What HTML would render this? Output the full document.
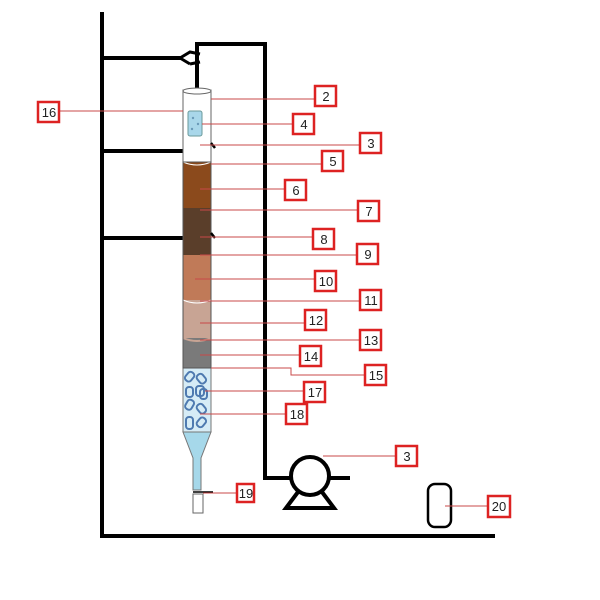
<!DOCTYPE html>
<html><head><style>body{margin:0;background:#fff}svg{display:block}text{font-family:"Liberation Sans",sans-serif;font-size:13px;fill:#222}</style></head>
<body>
<svg width="600" height="600" viewBox="0 0 600 600">
<rect width="600" height="600" fill="#fff"/>
<g stroke="#000" stroke-width="4" fill="none">
<line x1="102" y1="12" x2="102" y2="538"/>
<line x1="100" y1="536" x2="495" y2="536"/>
<line x1="102" y1="58" x2="182" y2="58"/>
<line x1="102" y1="151" x2="183" y2="151"/>
<line x1="102" y1="238" x2="183" y2="238"/>
<polyline points="197,112 197,44 265,44 265,478 292,478"/>
<line x1="329" y1="478" x2="350" y2="478"/>
</g>
<path d="M180,58 L190,52 L200,54 M190,64 L200,62 M180,58 L190,64" stroke="#000" stroke-width="3" fill="none"/>
<rect x="183" y="90" width="28" height="72" fill="#fff" stroke="#666" stroke-width="1"/>
<ellipse cx="197" cy="91" rx="14" ry="3" fill="#fff" stroke="#666"/>
<rect x="183" y="162" width="28" height="46" fill="#8b4a1c"/>
<rect x="183" y="208" width="28" height="47" fill="#5a3e2a"/>
<rect x="183" y="255" width="28" height="45" fill="#c07a58"/>
<rect x="183" y="300" width="28" height="38" fill="#c8a494"/>
<rect x="183" y="338" width="28" height="30" fill="#7a7a7a"/>
<rect x="183" y="368" width="28" height="64" fill="#d6ecf6" stroke="#777"/>
<path d="M183,162 Q197,168 211,162" stroke="#fff" fill="none"/>
<path d="M183,300 Q197,306 211,300" stroke="#fff" fill="none"/>
<path d="M183,338 Q197,344 211,338" stroke="#c8a494" stroke-width="2" fill="none"/>
<rect x="183" y="162" width="28" height="206" fill="none" stroke="#555"/>
<g fill="none" stroke="#4e7ab0" stroke-width="2">
<rect x="186" y="372" width="7" height="10" rx="3" transform="rotate(40 190 377)"/>
<rect x="198" y="374" width="7" height="10" rx="3" transform="rotate(-40 201 379)"/>
<rect x="186" y="387" width="7" height="10" rx="3"/>
<rect x="196" y="386" width="8" height="10" rx="3"/>
<rect x="200" y="389" width="7" height="10" rx="3"/>
<rect x="186" y="400" width="7" height="10" rx="3" transform="rotate(30 190 405)"/>
<rect x="198" y="404" width="7" height="10" rx="3" transform="rotate(-40 201 409)"/>
<rect x="186" y="417" width="7" height="12" rx="3"/>
<rect x="198" y="417" width="7" height="10" rx="3" transform="rotate(40 201 422)"/>
</g>
<path d="M183,432 L211,432 L201,458 L201,490 L193,490 L193,458 Z" fill="#a6d8ea" stroke="#777"/>
<rect x="193" y="494" width="10" height="19" fill="#fff" stroke="#666"/>
<line x1="193" y1="492" x2="213" y2="492" stroke="#000" stroke-width="1.5"/>
<rect x="188" y="111" width="14" height="25" rx="2" fill="#a9d7ea" stroke="#6a9a9a"/>
<g fill="#6a9ab8"><circle cx="193" cy="118" r="1.2"/><circle cx="198" cy="124" r="1.2"/><circle cx="192" cy="129" r="1.2"/></g>
<line x1="211" y1="143" x2="215" y2="148" stroke="#000" stroke-width="2.5"/>
<line x1="211" y1="233" x2="215" y2="238" stroke="#000" stroke-width="2.5"/>
<circle cx="310" cy="476" r="19" fill="#fff" stroke="#000" stroke-width="4"/>
<path d="M298,492 L286,508 L334,508 L322,492" fill="none" stroke="#000" stroke-width="4"/>
<rect x="428" y="484" width="23" height="43" rx="7" fill="#fff" stroke="#000" stroke-width="2.5"/>
<g stroke="#c84848" stroke-width="1" fill="none">
<line x1="60" y1="111" x2="183" y2="111"/>
<line x1="211" y1="99" x2="314" y2="99"/>
<line x1="202" y1="124" x2="292" y2="124"/>
<line x1="200" y1="145" x2="360" y2="145"/>
<line x1="211" y1="164" x2="321" y2="164"/>
<line x1="200" y1="189" x2="284" y2="189"/>
<line x1="200" y1="210" x2="357" y2="210"/>
<line x1="200" y1="237" x2="312" y2="237"/>
<line x1="200" y1="255" x2="356" y2="255"/>
<line x1="195" y1="279" x2="314" y2="279"/>
<line x1="200" y1="301" x2="359" y2="301"/>
<line x1="200" y1="323" x2="304" y2="323"/>
<line x1="200" y1="340" x2="359" y2="340"/>
<line x1="200" y1="355" x2="299" y2="355"/>
<polyline points="211,368 291,368 291,375 364,375"/>
<line x1="205" y1="391" x2="303" y2="391"/>
<line x1="200" y1="414" x2="285" y2="414"/>
<line x1="323" y1="456" x2="396" y2="456"/>
<line x1="203" y1="493" x2="236" y2="493"/>
<line x1="445" y1="506" x2="488" y2="506"/>
</g>
<g fill="#fff" stroke="#d22" stroke-width="2.5">
<rect x="38" y="102" width="21" height="20"/>
<rect x="315" y="86" width="21" height="20"/>
<rect x="293" y="114" width="21" height="20"/>
<rect x="360" y="133" width="21" height="20"/>
<rect x="322" y="151" width="21" height="20"/>
<rect x="285" y="180" width="21" height="20"/>
<rect x="358" y="201" width="21" height="20"/>
<rect x="313" y="229" width="21" height="20"/>
<rect x="357" y="244" width="21" height="20"/>
<rect x="315" y="271" width="21" height="20"/>
<rect x="360" y="290" width="21" height="20"/>
<rect x="305" y="310" width="21" height="20"/>
<rect x="360" y="330" width="21" height="20"/>
<rect x="300" y="346" width="21" height="20"/>
<rect x="365" y="365" width="21" height="20"/>
<rect x="304" y="382" width="21" height="20"/>
<rect x="286" y="404" width="21" height="20"/>
<rect x="396" y="446" width="21" height="20"/>
<rect x="237" y="484" width="17" height="18"/>
<rect x="488" y="496" width="22" height="21"/>
</g>
<g text-anchor="middle">
<text x="49" y="117">16</text>
<text x="326" y="101">2</text>
<text x="304" y="129">4</text>
<text x="371" y="148">3</text>
<text x="333" y="166">5</text>
<text x="296" y="195">6</text>
<text x="369" y="216">7</text>
<text x="324" y="244">8</text>
<text x="368" y="259">9</text>
<text x="326" y="286">10</text>
<text x="371" y="305">11</text>
<text x="316" y="325">12</text>
<text x="371" y="345">13</text>
<text x="311" y="361">14</text>
<text x="376" y="380">15</text>
<text x="315" y="397">17</text>
<text x="297" y="419">18</text>
<text x="407" y="461">3</text>
<text x="246" y="498">19</text>
<text x="499" y="511">20</text>
</g>
</svg>
</body></html>
